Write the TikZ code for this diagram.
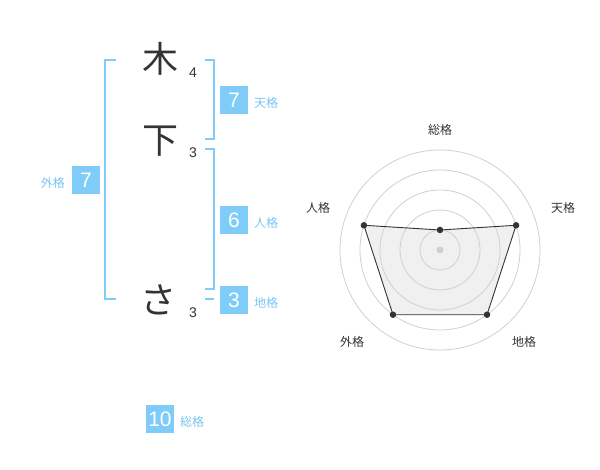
\documentclass[tikz,border=0pt]{standalone}
\usepackage{fontspec}
\setmainfont{Liberation Sans}
\newfontfamily\jpfont{Noto Sans CJK JP}
\definecolor{kakublue}{RGB}{128,204,248}
\definecolor{kakutext}{RGB}{122,196,240}
\definecolor{inkgray}{RGB}{51,51,51}
\definecolor{ringgray}{RGB}{208,208,208}
\definecolor{areagray}{RGB}{240,240,240}

\begin{document}
\begin{tikzpicture}[x = 1pt, y = -1pt,
    every node/.style = {inner sep = 0pt},
    kanji/.style = {font = \jpfont\fontsize{36}{36}\selectfont, text = inkgray},
    strokes/.style = {font = \fontsize{14}{14}\selectfont, text = inkgray},
    numbox/.style = {fill = kakublue, text = white, minimum width = 28pt,
                     minimum height = 28pt, font = \fontsize{21}{21}\selectfont},
    kaku/.style = {font = \jpfont\fontsize{12}{12}\selectfont, text = kakutext},
    axis/.style = {font = \jpfont\fontsize{12}{12}\selectfont, text = inkgray},
    bracket/.style = {draw = kakublue, line width = 1.6pt},
    ring/.style = {draw = ringgray, line width = 0.8pt},
    dot/.style = {shape = circle, fill = inkgray, minimum size = 6.5pt}]
  \useasboundingbox (0, 0) rectangle (600, 470);

  \node [kanji] (k1) at (160, 59) {木};
  \node [kanji] (k2) at (160, 141) {下};
  \node [kanji] (k3) at (158, 300) {さ};
  \node [strokes] (s1) at (193, 73) {4};
  \node [strokes] (s2) at (193, 153) {3};
  \node [strokes] (s3) at (193, 313) {3};

  \draw [bracket] (116, 60) -- (105, 60) -- (105, 299) -- (116, 299);
  \draw [bracket] (205, 60) -- (214, 60) -- (214, 139) -- (205, 139);
  \draw [bracket] (205, 149) -- (214, 149) -- (214, 289) -- (205, 289);
  \draw [bracket] (205, 299) -- (214, 299);

  \node [numbox] (ten) at (234, 100) {7};
  \node [kaku, anchor = west] (tenl) at (254, 103) {天格};
  \node [numbox] (jin) at (234, 220) {6};
  \node [kaku, anchor = west] (jinl) at (254, 223) {人格};
  \node [numbox] (chi) at (234, 300) {3};
  \node [kaku, anchor = west] (chil) at (254, 303) {地格};
  \node [numbox] (gai) at (86, 180) {7};
  \node [kaku, anchor = east] (gail) at (65, 183) {外格};
  \node [numbox] (sou) at (160, 419) {10};
  \node [kaku, anchor = west] (soul) at (180, 422) {総格};

  \begin{scope}[shift = {(440, 250)}, y = 1pt]
    \coordinate (psou) at (90:20);
    \coordinate (pten) at (18:80);
    \coordinate (pchi) at (-54:80);
    \coordinate (pgai) at (-126:80);
    \coordinate (pjin) at (162:80);
    \fill [areagray] (psou) -- (pten) -- (pchi) -- (pgai) -- (pjin) -- cycle;
    \foreach \r in {20, 40, ..., 100}
      \draw [ring] (0, 0) circle [radius = \r];
    \node [dot, fill = ringgray, minimum size = 7pt] (c0) at (0, 0) {};
    \draw [inkgray, line width = 0.9pt] (psou) -- (pten) -- (pchi) -- (pgai)
          -- (pjin) -- cycle;
    \node [dot] (dsou) at (psou) {};
    \node [dot] (dten) at (pten) {};
    \node [dot] (dchi) at (pchi) {};
    \node [dot] (dgai) at (pgai) {};
    \node [dot] (djin) at (pjin) {};
    \node [axis] (asou) at (0, 120) {総格};
    \node [axis] (aten) at (123, 42) {天格};
    \node [axis] (ajin) at (-122, 42) {人格};
    \node [axis] (achi) at (84, -92) {地格};
    \node [axis] (agai) at (-88, -92) {外格};
  \end{scope}
\end{tikzpicture}
\end{document}
